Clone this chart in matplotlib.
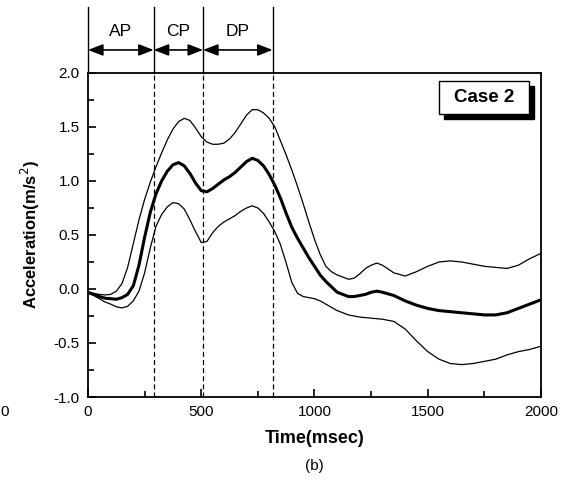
import numpy as np
import matplotlib
matplotlib.use("Agg")
import matplotlib.pyplot as plt
from matplotlib.patches import Rectangle
from matplotlib.ticker import MultipleLocator

plt.rcParams['font.family'] = ['Liberation Sans', 'DejaVu Sans']

# time axis (msec): 25 ms steps up to 1275, then 50 ms steps
time_ms = np.concatenate([np.arange(0, 1300, 25), np.arange(1300, 2001, 50)])

# mean acceleration (thick curve)
accel_mean = [-0.03, -0.05, -0.07, -0.085, -0.09, -0.095, -0.08, -0.05, 0.03, 0.22, 0.48, 0.71,
              0.88, 1.00, 1.09, 1.15, 1.17, 1.14, 1.07, 0.98, 0.91, 0.90, 0.93, 0.97,
              1.01, 1.04, 1.08, 1.13, 1.18, 1.21, 1.19, 1.14, 1.06, 0.96, 0.84, 0.70,
              0.57, 0.47, 0.38, 0.29, 0.21, 0.13, 0.07, 0.02, -0.03, -0.05, -0.07, -0.07,
              -0.06, -0.05, -0.03, -0.02,
              -0.03, -0.06, -0.11, -0.15, -0.18, -0.20, -0.21, -0.22, -0.23, -0.24,
              -0.24, -0.22, -0.18, -0.14, -0.10]

# mean + sd (upper thin curve)
accel_upper = [-0.03, -0.04, -0.05, -0.055, -0.05, -0.02, 0.05, 0.20, 0.42, 0.64, 0.83, 0.99,
               1.13, 1.26, 1.38, 1.48, 1.55, 1.58, 1.56, 1.49, 1.41, 1.36, 1.34, 1.34,
               1.35, 1.39, 1.45, 1.53, 1.61, 1.66, 1.66, 1.63, 1.58, 1.50, 1.37, 1.24,
               1.10, 0.95, 0.79, 0.62, 0.46, 0.32, 0.21, 0.16, 0.13, 0.11, 0.09, 0.10,
               0.14, 0.19, 0.22, 0.24,
               0.22, 0.15, 0.12, 0.16, 0.21, 0.25, 0.26, 0.25, 0.23, 0.21,
               0.20, 0.19, 0.22, 0.28, 0.33]

# mean - sd (lower thin curve)
accel_lower = [-0.04, -0.06, -0.09, -0.12, -0.14, -0.165, -0.175, -0.16, -0.11, -0.02, 0.15, 0.38,
               0.58, 0.69, 0.76, 0.80, 0.79, 0.74, 0.64, 0.53, 0.43, 0.44, 0.52, 0.58,
               0.62, 0.65, 0.68, 0.72, 0.75, 0.77, 0.75, 0.70, 0.62, 0.53, 0.41, 0.24,
               0.06, -0.04, -0.07, -0.08, -0.09, -0.11, -0.14, -0.17, -0.20, -0.22, -0.24, -0.25,
               -0.26, -0.265, -0.27, -0.275,
               -0.28, -0.30, -0.37, -0.48, -0.58, -0.65, -0.69, -0.70, -0.69, -0.67,
               -0.65, -0.61, -0.58, -0.56, -0.53]

# phase boundaries (msec) and names
phase_edges = [0, 290, 508, 815]
phase_names = ['AP', 'CP', 'DP']

fig = plt.figure(figsize=(5.66, 4.8), dpi=100)
ax = fig.add_axes([0.1555, 0.1729, 0.8003, 0.6751])

ax.plot(time_ms, accel_upper, color='black', lw=0.9, solid_joinstyle='round')
ax.plot(time_ms, accel_lower, color='black', lw=0.9, solid_joinstyle='round')
ax.plot(time_ms, accel_mean, color='black', lw=2.2, solid_joinstyle='round')

ax.set_xlim(0, 2000)
ax.set_ylim(-1.0, 2.0)
ax.xaxis.set_major_locator(MultipleLocator(500))
ax.xaxis.set_minor_locator(MultipleLocator(250))
ax.yaxis.set_major_locator(MultipleLocator(0.5))
ax.yaxis.set_minor_locator(MultipleLocator(0.25))
ax.yaxis.set_major_formatter(plt.FormatStrFormatter('%.1f'))
ax.tick_params(which='both', direction='in', top=False, right=False,
               labelsize=11, pad=6, width=1.2)
ax.tick_params(which='major', length=6)
ax.tick_params(which='minor', length=4)
for s in ax.spines.values():
    s.set_linewidth(1.3)

# dashed phase lines inside the plot
for t in phase_edges[1:]:
    ax.axvline(t, color='black', lw=0.9, ls=(0, (4, 2.5)))

# phase markers above the plot
trans = ax.get_xaxis_transform()
for t in phase_edges:
    ax.plot([t, t], [1.0, 1.204], transform=trans, color='black', lw=1.0,
            clip_on=False)
for i, name in enumerate(phase_names):
    a, b = phase_edges[i], phase_edges[i + 1]
    ax.annotate('', xy=(b, 1.071), xytext=(a, 1.071), xycoords=trans,
                textcoords=trans,
                arrowprops=dict(arrowstyle='<|-|>,head_length=0.9,head_width=0.35',
                                color='black', lw=1.2, shrinkA=0, shrinkB=0))
    ax.text((a + b) / 2, 1.127, name, transform=trans, ha='center',
            va='center', fontsize=12.5)

# "Case 2" box with shadow
ax.add_patch(Rectangle((0.785, 0.858), 0.199, 0.102, transform=ax.transAxes,
                       facecolor='black', edgecolor='black', zorder=5))
ax.add_patch(Rectangle((0.775, 0.873), 0.199, 0.102, transform=ax.transAxes,
                       facecolor='white', edgecolor='black', lw=1.0, zorder=6))
ax.text(0.8745, 0.924, 'Case 2', transform=ax.transAxes, ha='center',
        va='center', fontsize=13.5, fontweight='bold', zorder=7)

ax.set_xlabel('Time(msec)', fontsize=13, fontweight='bold', labelpad=8)
ax.set_ylabel('Acceleration(m/s$^2$)', fontsize=12, fontweight='bold', labelpad=8)
fig.text(0.555, 0.029, '(b)', ha='center', va='center', fontsize=11)
fig.text(0.009, 0.142, '0', ha='center', va='center', fontsize=11)

fig.savefig('out.png', dpi=100)
